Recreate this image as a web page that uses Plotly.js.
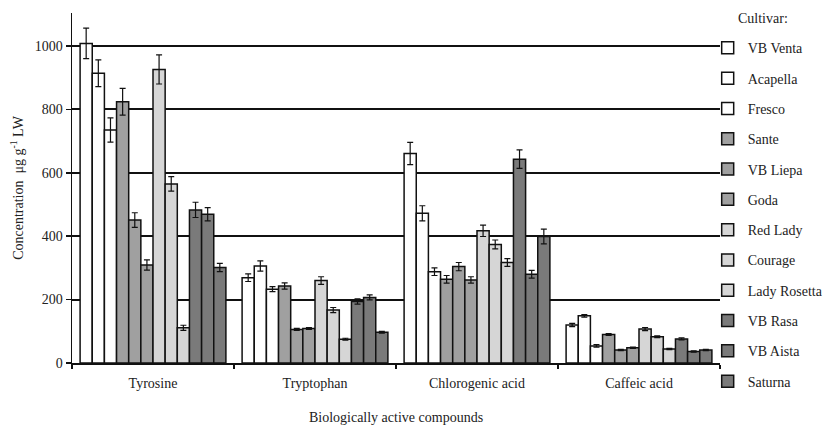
<!DOCTYPE html>
<html>
<head>
<meta charset="utf-8">
<script src="https://cdn.plot.ly/plotly-3.0.1.min.js"></script>
<style>html,body{margin:0;padding:0;background:#fff;}#chart{width:836px;height:426px;}</style>
</head>
<body>
<div id="chart"></div>
<script>
const categories = ["Tyrosine", "Tryptophan", "Chlorogenic acid", "Caffeic acid"];
const cultivars = ["VB Venta", "Acapella", "Fresco", "Sante", "VB Liepa", "Goda", "Red Lady", "Courage", "Lady Rosetta", "VB Rasa", "VB Aista", "Saturna"];

const vbVenta = [1008, 269, 661, 120];
const acapella = [914, 306, 472, 149];
const fresco = [735, 233, 288, 54];
const sante = [824, 243, 264, 90];
const vbLiepa = [451, 106, 304, 41];
const goda = [309, 109, 262, 48];
const redLady = [926, 260, 417, 107];
const courage = [565, 167, 374, 83];
const ladyRosetta = [111, 75, 317, 44];
const vbRasa = [483, 194, 643, 76];
const vbAista = [469, 207, 280, 36];
const saturna = [301, 97, 399, 41];

const errVbVenta = [48, 12, 35, 5];
const errAcapella = [42, 16, 24, 4];
const errFresco = [38, 8, 12, 4];
const errSante = [42, 10, 12, 3];
const errVbLiepa = [23, 3, 13, 2];
const errGoda = [16, 3, 10, 2];
const errRedLady = [46, 12, 18, 5];
const errCourage = [23, 8, 14, 3];
const errLadyRosetta = [8, 3, 12, 2];
const errVbRasa = [24, 8, 29, 3];
const errVbAista = [21, 8, 12, 2];
const errSaturna = [13, 3, 23, 2];

const values = [vbVenta, acapella, fresco, sante, vbLiepa, goda, redLady, courage, ladyRosetta, vbRasa, vbAista, saturna];
const errors = [errVbVenta, errAcapella, errFresco, errSante, errVbLiepa, errGoda, errRedLady, errCourage, errLadyRosetta, errVbRasa, errVbAista, errSaturna];
const colors = ["#ffffff", "#ffffff", "#ffffff", "#a0a0a0", "#a0a0a0", "#a0a0a0", "#d6d6d6", "#d6d6d6", "#d6d6d6", "#7a7a7a", "#7a7a7a", "#7a7a7a"];

const font = "Liberation Serif";
const txt = "#222";

const traces = cultivars.map((name, i) => ({
  type: "bar",
  name: name,
  x: categories,
  y: values[i],
  legendgroup: "g" + i,
  marker: {color: colors[i], line: {color: "#111", width: 1.5}},
  error_y: {type: "data", array: errors[i], visible: true, color: "#111", thickness: 1.2, width: 3}
}));

const layout = {
  width: 836, height: 426,
  paper_bgcolor: "#fff", plot_bgcolor: "#fff",
  margin: {l: 72, r: 116, t: 13, b: 63, autoexpand: false},
  font: {family: font, size: 14, color: txt},
  barmode: "group",
  bargap: 0.1,
  bargroupgap: 0,
  showlegend: true,
  legend: {
    x: 0.981, xanchor: "left", y: 0.945, yanchor: "top",
    tracegroupgap: 9.1,
    maxheight: 420,
    font: {family: font, size: 14, color: txt},
    bgcolor: "rgba(0,0,0,0)"
  },
  annotations: [{
    text: "Cultivar:", xref: "paper", yref: "paper",
    x: 1.025, xanchor: "left", y: 1.0, yanchor: "middle",
    yshift: -5, showarrow: false,
    font: {family: font, size: 14, color: txt}
  }],
  xaxis: {
    type: "category",
    showline: true, linecolor: "#111", linewidth: 1.5,
    ticks: "outside", tickson: "boundaries", ticklen: 4, tickcolor: "#111", tickwidth: 1.5,
    ticklabelstandoff: 7,
    showgrid: false,
    tickfont: {family: font, size: 14, color: txt},
    title: {text: "Biologically active compounds", font: {family: font, size: 14, color: txt}, standoff: 22}
  },
  yaxis: {
    range: [0, 1104],
    dtick: 200, tick0: 0,
    showline: true, linecolor: "#111", linewidth: 1.5,
    ticks: "outside", ticklen: 5, tickcolor: "#111", tickwidth: 1.5,
    showgrid: true, gridcolor: "#111", gridwidth: 2,
    zeroline: false,
    tickfont: {family: font, size: 14, color: txt},
    title: {text: "Concentration  μg g<sup>-1</sup> LW", font: {family: font, size: 14, color: txt}, standoff: 8}
  }
};

Plotly.newPlot("chart", traces, layout, {displayModeBar: false, staticPlot: true});
</script>
</body>
</html>
